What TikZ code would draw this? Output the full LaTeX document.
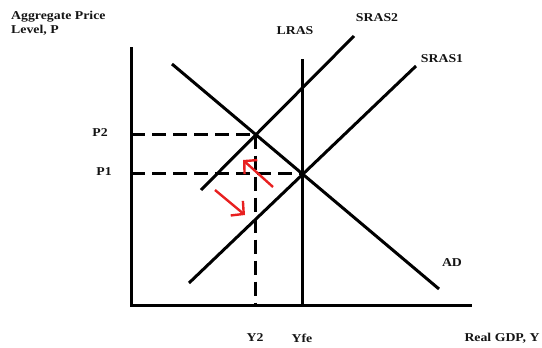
\documentclass[tikz,border=0pt]{standalone}
\usepackage{fontspec}
\setmainfont{Liberation Serif}[FakeStretch=1.15]
\usetikzlibrary{arrows.meta,intersections}
\tikzset{
  curve/.style={line width=3pt,black},
  axisline/.style={line width=3pt,black},
  guide/.style={line width=3pt,black,dash pattern=on 14pt off 7pt},
  movearrow/.style={line width=2.4pt,color={rgb,255:red,232;green,32;blue,32},-{Straight Barb[length=9pt,width=19pt,line width=2.4pt]}},
  lbl/.style={font=\fontsize{12}{14}\selectfont\bfseries,text={rgb,255:red,20;green,20;blue,20},inner sep=0pt}
}
\begin{document}
\begin{tikzpicture}[x=1pt,y=-1pt]
\useasboundingbox (0,0) rectangle (542,348);
% axes
\coordinate (O) at (131,305);
\coordinate (ytop) at (131,47);
\coordinate (xend) at (472,305);
\draw[axisline] (ytop) -- (O) -- (xend);
% curves
\coordinate (lrasT) at (302,59);
\coordinate (lrasB) at (302,305);
\coordinate (s2a) at (201,190);
\coordinate (s2b) at (354,36);
\coordinate (s1a) at (189,283);
\coordinate (s1b) at (416,66);
\coordinate (ada) at (172,64);
\coordinate (adb) at (439,289);
\draw[curve,name path=lras] (lrasT) -- (lrasB);
\draw[curve,name path=sras2] (s2a) -- (s2b);
\draw[curve,name path=sras1] (s1a) -- (s1b);
\draw[curve,name path=ad] (ada) -- (adb);
\path[name intersections={of=ad and sras2,by=E2}];
\path[name intersections={of=ad and lras,by=E1}];
% dashed guides
\draw[guide] (O |- E2) -- (E2);
\draw[guide] (O |- E1) -- (E1);
\draw[guide] (E2) -- (E2 |- O);
% red shift arrows
\coordinate (upS) at (273,187);
\coordinate (upE) at (243,160);
\coordinate (dnS) at (215,190);
\coordinate (dnE) at (245,215);
\draw[movearrow] (upS) -- (upE);
\draw[movearrow] (dnS) -- (dnE);
% labels
\node[lbl,anchor=west,align=left] (ylab) at (11,23) {Aggregate Price\\Level, P};
\node[lbl] (lraslab) at (295,31) {LRAS};
\node[lbl] (s2lab) at (377,18) {SRAS2};
\node[lbl] (s1lab) at (442,59) {SRAS1};
\node[lbl] (p2lab) at (100,133) {P2};
\node[lbl] (p1lab) at (104,172) {P1};
\node[lbl] (adlab) at (452,263) {AD};
\node[lbl] (y2lab) at (255,338) {Y2};
\node[lbl] (yfelab) at (302,338) {Yfe};
\node[lbl] (xlab) at (502,338) {Real GDP, Y};
\end{tikzpicture}
\end{document}
